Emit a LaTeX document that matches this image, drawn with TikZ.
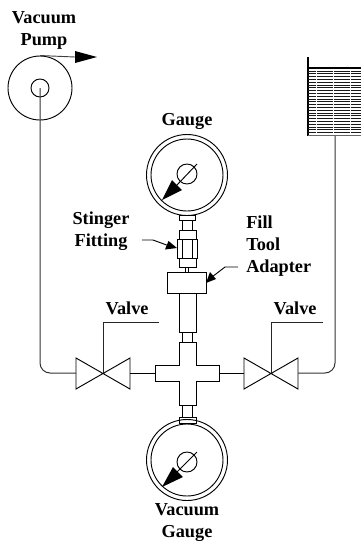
\documentclass[tikz,border=0pt]{standalone}
\usepackage{fontspec}
\setmainfont{Liberation Serif}
\begin{document}
\begin{tikzpicture}[x=0.75pt,y=-0.75pt,
  label/.style={font=\bfseries\fontsize{13.7}{16.5}\selectfont, align=center, inner sep=0pt},
  part/.style={draw, line width=0.7pt},
  pipe/.style={draw, line width=0.75pt, black!80, rounded corners=7.5pt},
  lead/.style={draw, line width=0.7pt},
  dial/.style={circle, draw, line width=0.7pt, inner sep=0pt, minimum size=#1*0.75pt}]
  \useasboundingbox (0,0) rectangle (361,544);

  % pump
  \node[dial=64] (pump) at (40,88) {};
  \node[dial=18] (pumpeye) at (40,88) {};
  \coordinate (pumpout) at (97,57);
  \fill (75,51) -- (pumpout) -- (75,63) -- cycle;
  \draw[part, black!75] (pump.north) -- (75,57);
  \node[label] (pumplabel) at (44,30) {Vacuum\\Pump};

  % tank
  \coordinate (tanktop) at (308,57);
  \coordinate (tankbase) at (308,136);
  \draw[line width=0.8pt] (tanktop) -- (tankbase);
  \draw[line width=0.8pt] (308,68) -- (361,68);
  \draw[line width=1pt, black!60] (308,135.5) -- (361,135.5);
  \foreach \y in {71,73.8,...,134}
    \draw[line width=0.65pt, dash pattern=on 6pt off 0.4pt, black!90] (308,\y) -- (361,\y);

  % upper gauge
  \node[dial=81] (topgauge) at (187,175) {};
  \node[dial=72] at (187,175) {};
  \node[dial=20] (topeye) at (187,174) {};
  \draw[part] (197,164) -- (176,186);
  \fill (162,200) -- (172,180) -- (182,190) -- cycle;
  \node[label] (gaugelabel) at (187,121) {Gauge};

  % stem
  \draw[part] (179,215) rectangle (195,220);
  \draw[part] (182,220) rectangle (192,230);
  \draw[part] (179,230) rectangle (196,239);
  \node[part, minimum width=15pt, minimum height=14.25pt, inner sep=0pt] (hexnut) at (187,248.5) {};
  \draw[part] (182,239) -- (182,258) (192,239) -- (192,258);
  \draw[part] (179,258) rectangle (196,267);
  \draw[part] (185,267) rectangle (188,272);
  \node[part, minimum width=29.25pt, minimum height=15.75pt, inner sep=0pt] (adapter) at (186.5,282.5) {};
  \draw[part] (179,293) rectangle (196,332);
  \draw[part] (182,332) rectangle (192,342);

  % cross
  \draw[part] (179,342) -- (196,342) -- (196,365) -- (219,365) -- (219,381) -- (196,381)
    -- (196,405) -- (179,405) -- (179,381) -- (155,381) -- (155,365) -- (179,365) -- cycle;
  \coordinate (crossleft) at (155,373);
  \coordinate (crossright) at (219,373);
  \draw[part] (182,405) rectangle (192,417);
  \draw[part] (179,417) rectangle (196,423);

  % lower gauge
  \node[dial=81] (lowgauge) at (187,460) {};
  \node[dial=72] at (187,460) {};
  \node[dial=20] (loweye) at (187,462) {};
  \draw[part] (197,452) -- (176,473);
  \fill (162,487) -- (173,467) -- (183,477) -- cycle;
  \node[label] (lowlabel) at (187,523) {Vacuum\\Gauge};

  % valves
  \foreach \name/\cx/\tx in {valvea/103/159, valveb/271/323} {
    \coordinate (\name) at (\cx,373);
    \coordinate (\name l) at (\cx-27,373);
    \coordinate (\name r) at (\cx+27,373);
    \draw[part, line join=miter] (\cx-27,358) -- (\cx+27,389) -- (\cx+27,358) -- (\cx-27,389) -- cycle;
    \draw[part, black!85] (\name) -- (\cx,322) -- (\tx,322);
  }
  \node[label] (valvelabela) at (127,308) {Valve};
  \node[label] (valvelabelb) at (295,308) {Valve};

  % pipes
  \draw[pipe] (pumpeye.center) -- (40,373) -- (valveal);
  \draw[part] (valvear) -- (crossleft);
  \draw[part] (crossright) -- (valvebl);
  \draw[pipe] (valvebr) -- (335,373) -- (335,136);

  % callouts
  \node[label] (stingerlabel) at (101,231) {Stinger\\Fitting};
  \node[label, align=left, anchor=north west] (filllabel) at (246,216) {Fill\\Tool\\Adapter};
  \coordinate (stingerlead) at (142,240);
  \coordinate (filllead) at (238,267);
  \draw[lead] (stingerlead) -- (153,240) -- (168,245.5);
  \fill (177,248) -- (165,249.5) -- (168.5,241) -- cycle;
  \draw[lead] (filllead) -- (225,267) -- (212,277);
  \fill (206,283) -- (210,272) -- (216,279) -- cycle;
\end{tikzpicture}
\end{document}
